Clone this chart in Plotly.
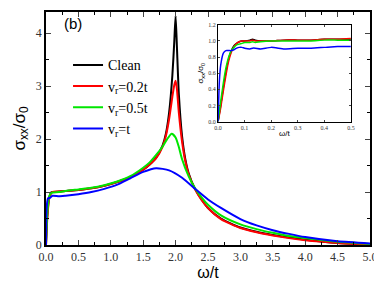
import plotly.graph_objects as go

# ---- main panel data (omega/t, sigma_xx/sigma_0) ----
w_main = [0.0, 0.02, 0.05, 0.08, 0.1, 0.2, 0.3, 0.5, 0.7, 0.9, 1.1, 1.3, 1.5, 1.6, 1.7, 1.8, 1.85, 1.9, 1.95,
          1.98, 2.0, 2.02, 2.05, 2.1, 2.15, 2.2, 2.3, 2.4, 2.5, 2.7, 3.0, 3.25, 3.5, 3.75, 4.0, 4.5, 5.0]
clean = [0.0, 0.55, 0.9, 0.99, 1.0, 1.01, 1.02, 1.04, 1.07, 1.12, 1.19, 1.28, 1.42, 1.52, 1.65, 1.88, 2.1, 2.5, 3.2,
         3.85, 4.33, 3.75, 2.85, 2.05, 1.62, 1.36, 1.06, 0.86, 0.7, 0.5, 0.33, 0.25, 0.19, 0.14, 0.1, 0.04, 0.01]
red = [0.0, 0.5, 0.88, 0.98, 1.0, 1.01, 1.02, 1.04, 1.07, 1.12, 1.19, 1.28, 1.42, 1.52, 1.64, 1.86, 2.06, 2.38, 2.8,
       3.02, 3.1, 2.95, 2.5, 1.95, 1.58, 1.34, 1.05, 0.85, 0.7, 0.49, 0.32, 0.24, 0.18, 0.13, 0.09, 0.04, 0.01]
w_green = [0.0, 0.02, 0.05, 0.08, 0.1, 0.2, 0.3, 0.5, 0.7, 0.9, 1.1, 1.3, 1.5, 1.6, 1.7, 1.8, 1.87, 1.94, 2.0,
           2.05, 2.1, 2.2, 2.3, 2.4, 2.5, 2.7, 3.0, 3.25, 3.5, 3.75, 4.0, 4.5, 5.0]
green = [0.0, 0.6, 0.92, 0.98, 0.99, 1.0, 1.02, 1.05, 1.08, 1.13, 1.2, 1.3, 1.46, 1.56, 1.7, 1.86, 2.0, 2.1, 2.03,
         1.85, 1.62, 1.3, 1.07, 0.9, 0.76, 0.56, 0.39, 0.3, 0.23, 0.17, 0.13, 0.06, 0.02]
w_blue = [0.0, 0.01, 0.03, 0.06, 0.1, 0.2, 0.3, 0.5, 0.7, 0.9, 1.1, 1.3, 1.5, 1.7, 1.9, 2.1, 2.3, 2.5, 2.7, 3.0,
          3.25, 3.5, 3.75, 4.0, 4.5, 5.0]
blue = [0.0, 0.7, 0.88, 0.89, 0.93, 0.92, 0.93, 0.96, 1.0, 1.06, 1.14, 1.26, 1.38, 1.45, 1.41, 1.27, 1.06, 0.86,
        0.7, 0.49, 0.37, 0.28, 0.21, 0.15, 0.07, 0.03]

# ---- inset data ----
w_in = [0.0, 0.005, 0.01, 0.02, 0.03, 0.04, 0.05, 0.06, 0.07, 0.08, 0.09, 0.1, 0.12, 0.13, 0.14, 0.16, 0.2,
        0.25, 0.3, 0.35, 0.4, 0.45, 0.5]
in_clean = [0.0, 0.1, 0.2, 0.42, 0.62, 0.78, 0.88, 0.94, 0.97, 0.99, 1.0, 1.0, 1.01, 1.02, 1.01, 1.0, 1.0,
            1.01, 1.01, 1.01, 1.02, 1.02, 1.02]
in_red = [0.0, 0.08, 0.17, 0.38, 0.58, 0.75, 0.86, 0.93, 0.97, 0.99, 1.0, 1.0, 1.0, 1.01, 1.0, 1.0, 1.0,
          1.01, 1.01, 1.01, 1.02, 1.02, 1.03]
in_green = [0.0, 0.12, 0.25, 0.48, 0.67, 0.8, 0.88, 0.92, 0.95, 0.96, 0.97, 0.98, 0.98, 0.99, 0.98, 0.99, 1.0,
            1.0, 1.0, 1.0, 1.01, 1.01, 1.01]
in_blue = [0.0, 0.5, 0.7, 0.85, 0.88, 0.88, 0.88, 0.89, 0.91, 0.92, 0.92, 0.91, 0.9, 0.91, 0.91, 0.9, 0.92,
           0.9, 0.91, 0.91, 0.92, 0.93, 0.93]

names = ["Clean", "v<sub>r</sub>=0.2t", "v<sub>r</sub>=0.5t", "v<sub>r</sub>=t"]
colors = ["#000000", "#ff0000", "#00e600", "#0000ff"]

fig = go.Figure()
main_sets = [(w_main, clean), (w_main, red), (w_green, green), (w_blue, blue)]
for (xs, ys), n, c in zip(main_sets, names, colors):
    fig.add_trace(go.Scatter(x=xs, y=ys, mode="lines", name=n,
                             line=dict(color=c, width=2, shape="spline", smoothing=0.6)))
inset_sets = [in_clean, in_red, in_green, in_blue]
for ys, c in zip(inset_sets, colors):
    fig.add_trace(go.Scatter(x=w_in, y=ys, mode="lines", showlegend=False, xaxis="x2", yaxis="y2",
                             line=dict(color=c, width=1.5, shape="spline", smoothing=0.6)))

serif = "Liberation Serif"
sans = "Liberation Sans"
axcommon = dict(showline=True, linecolor="black", linewidth=1.5, mirror="ticks", ticks="inside",
                showgrid=False, zeroline=False, tickfont=dict(family=serif, size=12, color="#333"))
fig.update_layout(
    width=374, height=278, margin=dict(l=38, r=12, t=1, b=41),
    paper_bgcolor="white", plot_bgcolor="white", showlegend=True,
    xaxis=dict(range=[0, 5], tickvals=[0, 0.5, 1, 1.5, 2, 2.5, 3, 3.5, 4, 4.5, 5],
               ticktext=["0.0", "0.5", "1.0", "1.5", "2.0", "2.5", "3.0", "3.5", "4.0", "4.5", "5.0"],
               ticklen=5, minor=dict(ticks="inside", dtick=0.25, ticklen=3, tickcolor="black"),
               title=dict(text="ω/t", font=dict(family=sans, size=16, color="black"), standoff=1),
               **axcommon),
    yaxis=dict(range=[0, 4.4], tickvals=[0, 1, 2, 3, 4], ticklen=5,
               minor=dict(ticks="inside", dtick=0.5, ticklen=3, tickcolor="black"),
               title=dict(text="σ<sub>xx</sub>/σ<sub>0</sub>", font=dict(family=sans, size=17, color="black"),
                          standoff=6),
               **axcommon),
    xaxis2=dict(domain=[0.531, 0.941], anchor="y2", range=[0, 0.5], tickvals=[0, 0.1, 0.2, 0.3, 0.4, 0.5],
                ticktext=["0.0", "0.1", "0.2", "0.3", "0.4", "0.5"], ticks="inside", ticklen=2,
                showline=True, linecolor="black", linewidth=1, mirror="ticks", showgrid=False, zeroline=False,
                tickfont=dict(family=serif, size=6, color="#333"),
                title=dict(text="ω/t", font=dict(family=sans, size=8, color="black"), standoff=0)),
    yaxis2=dict(domain=[0.53, 0.945], anchor="x2", range=[0, 1.2],
                tickvals=[0, 0.2, 0.4, 0.6, 0.8, 1.0, 1.2],
                ticktext=["0.0", "0.2", "0.4", "0.6", "0.8", "1.0", "1.2"], ticks="inside", ticklen=2,
                showline=True, linecolor="black", linewidth=1, mirror="ticks", showgrid=False, zeroline=False,
                tickfont=dict(family=serif, size=6, color="#333"),
                title=dict(text="σ<sub>xx</sub>/σ<sub>0</sub>", font=dict(family=sans, size=8, color="black"),
                           standoff=3)),
    legend=dict(x=0.068, y=0.84, xanchor="left", yanchor="top", bgcolor="rgba(0,0,0,0)",
                font=dict(family=serif, size=14, color="black"), itemwidth=30, tracegroupgap=0),
    annotations=[dict(text="(b)", x=0.05, y=0.995, xref="paper", yref="paper", showarrow=False,
                      xanchor="left", yanchor="top", font=dict(family=sans, size=15, color="black"))],
)

fig.write_html("out.html")
